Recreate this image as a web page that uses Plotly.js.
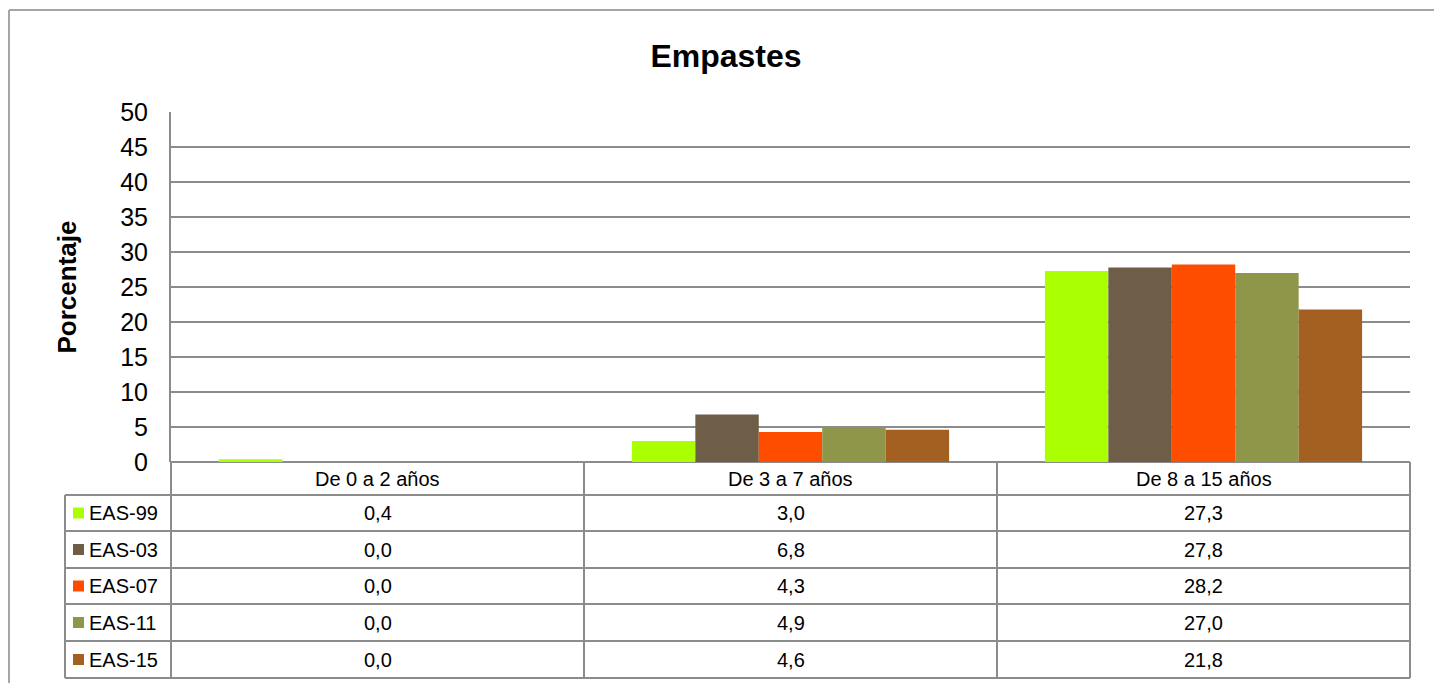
<!DOCTYPE html>
<html>
<head>
<meta charset="utf-8">
<script src="https://cdn.plot.ly/plotly-3.0.1.min.js"></script>
<style>html,body{margin:0;padding:0;background:#fff;overflow:hidden;}#chart{width:1434px;height:683px;}</style>
</head>
<body>
<div id="chart"></div>
<script>
const categories = ["De 0 a 2 años", "De 3 a 7 años", "De 8 a 15 años"];
const seriesNames = ["EAS-99", "EAS-03", "EAS-07", "EAS-11", "EAS-15"];
const eas99 = [0.4, 3.0, 27.3];
const eas03 = [0.0, 6.8, 27.8];
const eas07 = [0.0, 4.3, 28.2];
const eas11 = [0.0, 4.9, 27.0];
const eas15 = [0.0, 4.6, 21.8];
const seriesColors = ["#AAFF00", "#6E5E48", "#FF4D00", "#8F964A", "#A36020"];
const yTicks = [0, 5, 10, 15, 20, 25, 30, 35, 40, 45, 50];

const seriesValues = [eas99, eas03, eas07, eas11, eas15];

// geometry (pixels)
const W = 1434, H = 683;
const L = 171, R = 1410, T = 112, B = 462;
const pw = R - L, ph = B - T;
const px = x => (x - L) / pw;
const py = y => (B - y) / ph;

const FONT = "Liberation Sans, Arial, sans-serif";
const gridCol = "#8c8c8c";

const traces = seriesNames.map((n, i) => ({
  type: "bar",
  name: n,
  x: categories,
  y: seriesValues[i],
  marker: {color: seriesColors[i], line: {width: 0}},
  hoverinfo: "x+y+name"
}));

const rowEdges = [495, 531, 568, 604, 641, 678];
const colEdges = [L, 584, 997, R];
const shapes = [];
const lineStyle = {color: gridCol, width: 2};
// outer border
shapes.push({type: "line", xref: "paper", yref: "paper", x0: px(9), x1: px(1434), y0: py(10), y1: py(10), line: {color: "#a6a6a6", width: 2}});
shapes.push({type: "line", xref: "paper", yref: "paper", x0: px(9), x1: px(9), y0: py(10), y1: py(683), line: {color: "#a6a6a6", width: 2}});
// table horizontal lines
rowEdges.forEach(y => {
  shapes.push({type: "line", xref: "paper", yref: "paper", x0: px(65), x1: px(R), y0: py(y), y1: py(y), line: lineStyle});
});
// table vertical lines
colEdges.forEach(x => {
  shapes.push({type: "line", xref: "paper", yref: "paper", x0: px(x), x1: px(x), y0: py(B), y1: py(678), line: lineStyle});
});
shapes.push({type: "line", xref: "paper", yref: "paper", x0: px(65), x1: px(65), y0: py(495), y1: py(678), line: lineStyle});

const annotations = [];
// header row: category labels
categories.forEach((c, j) => {
  annotations.push({xref: "paper", yref: "paper", x: px((colEdges[j] + colEdges[j + 1]) / 2), y: py(478.5), xanchor: "center", yanchor: "middle",
    text: c, showarrow: false, font: {family: FONT, size: 20, color: "#000"}});
});
seriesNames.forEach((n, i) => {
  const yc = (rowEdges[i] + rowEdges[i + 1]) / 2;
  // legend key square
  shapes.push({type: "rect", xref: "paper", yref: "paper", x0: px(73), x1: px(84), y0: py(yc - 5.5), y1: py(yc + 5.5), fillcolor: seriesColors[i], line: {width: 0}});
  annotations.push({xref: "paper", yref: "paper", x: px(87), y: py(yc), xanchor: "left", yanchor: "middle", text: n, showarrow: false, font: {family: FONT, size: 20, color: "#000"}});
  categories.forEach((c, j) => {
    annotations.push({xref: "paper", yref: "paper", x: px((colEdges[j] + colEdges[j + 1]) / 2), y: py(yc), xanchor: "center", yanchor: "middle",
      text: seriesValues[i][j].toFixed(1).replace(".", ","), showarrow: false, font: {family: FONT, size: 20, color: "#000"}});
  });
});

const layout = {
  width: W, height: H,
  margin: {l: L, r: W - R, t: T, b: H - B, pad: 0},
  paper_bgcolor: "#fff", plot_bgcolor: "#fff",
  showlegend: false,
  barmode: "group",
  bargap: 0.232,
  bargroupgap: 0,
  title: {text: "<b>Empastes</b>", font: {family: FONT, size: 32, color: "#000"}, x: 726 / W, xref: "container", xanchor: "center", y: 1 - 56 / H, yref: "container", yanchor: "middle"},
  xaxis: {
    type: "category", range: [-0.5, 2.5], showgrid: false, zeroline: false, showline: false,
    showticklabels: false, ticks: "", fixedrange: true
  },
  yaxis: {
    range: [0, 50], tickvals: yTicks, ticktext: yTicks.map(String),
    showgrid: true, gridcolor: gridCol, gridwidth: 2, zeroline: true, zerolinecolor: gridCol, zerolinewidth: 2,
    showline: true, linecolor: gridCol, linewidth: 2,
    ticks: "outside", ticklen: 16, tickcolor: "rgba(0,0,0,0)",
    tickfont: {family: FONT, size: 25, color: "#000"},
    title: {text: "<b>Porcentaje</b>", font: {family: FONT, size: 26, color: "#000"}, standoff: 36},
    automargin: false, fixedrange: true
  },
  shapes: shapes,
  annotations: annotations
};

Plotly.newPlot("chart", traces, layout, {staticPlot: true, displayModeBar: false});
</script>
</body>
</html>
